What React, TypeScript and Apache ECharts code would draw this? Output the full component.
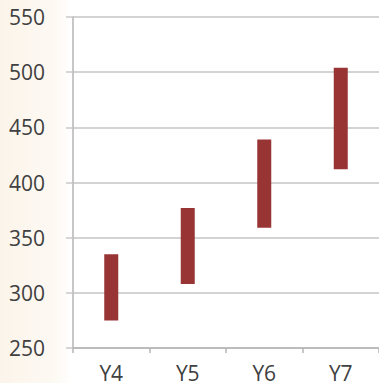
import React, { useEffect, useRef } from "react";
import * as echarts from "echarts";

const categories = ["Y4", "Y5", "Y6", "Y7"];
const lowValues = [275, 308, 359, 412];
const highValues = [335, 377, 439, 504];
const yTicks = { min: 250, max: 550, interval: 50 };

export default function App() {
  const ref = useRef<HTMLDivElement>(null);
  useEffect(() => {
    document.body.style.margin = "0";
    const chart = echarts.init(ref.current!, null, { renderer: "svg" });
    const rangeValues = highValues.map((h, i) => h - lowValues[i]);
    chart.setOption({
      animation: false,
      backgroundColor: "transparent",
      grid: { left: 73, right: 0, top: 17, bottom: 32, containLabel: false },
      xAxis: {
        type: "category",
        data: categories,
        boundaryGap: true,
        axisLine: { show: true, lineStyle: { color: "#b5b5b5", width: 1.5 } },
        axisTick: { show: true, length: 5, alignWithLabel: false, lineStyle: { color: "#b5b5b5", width: 1.5 } },
        axisLabel: { color: "#404040", fontSize: 21, fontFamily: "Open Sans", margin: 14 },
      },
      yAxis: {
        type: "value",
        min: yTicks.min,
        max: yTicks.max,
        interval: yTicks.interval,
        axisLine: { show: true, lineStyle: { color: "#b5b5b5", width: 1.5 } },
        axisTick: { show: true, inside: false, length: 7, lineStyle: { color: "#c8c8c8", width: 1.5 } },
        splitLine: { show: true, lineStyle: { color: "#d3d3d3", width: 2 } },
        axisLabel: { color: "#404040", fontSize: 21, fontFamily: "Open Sans", margin: 28 },
      },
      series: [
        {
          type: "bar",
          stack: "range",
          data: lowValues,
          barWidth: 14,
          itemStyle: { color: "transparent" },
          silent: true,
        },
        {
          type: "bar",
          stack: "range",
          data: rangeValues,
          barWidth: 14,
          itemStyle: { color: "#983434" },
        },
      ],
    });
    return () => chart.dispose();
  }, []);
  return (
    <div
      style={{
        width: 379,
        height: 383,
        background: "linear-gradient(to right, #fbf4ea 0px, #fdf9f3 55px, #ffffff 72px)",
      }}
    >
      <div ref={ref} style={{ width: 379, height: 383 }} />
    </div>
  );
}
